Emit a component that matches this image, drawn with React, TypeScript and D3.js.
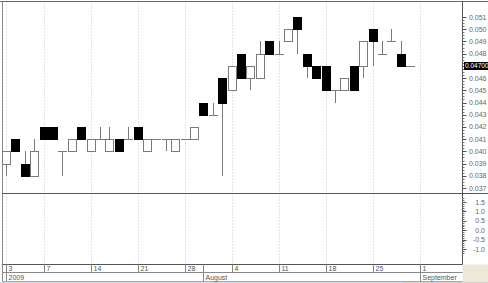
import React from "react";
import * as d3 from "d3";

// ---- data ----
const opens = [0.039,0.041,0.039,0.038,0.042,0.042,0.040,0.040,0.042,0.040,0.041,0.040,0.041,0.041,0.042,0.040,0.041,0.041,0.040,0.041,0.041,0.044,0.043,0.046,0.045,0.048,0.046,0.046,0.049,0.048,0.049,0.051,0.048,0.047,0.047,0.045,0.045,0.047,0.047,0.050,0.048,0.049,0.048,0.047];
const highs = [0.040,0.041,0.040,0.041,0.042,0.042,0.040,0.041,0.042,0.041,0.042,0.042,0.041,0.042,0.042,0.041,0.041,0.041,0.041,0.041,0.042,0.044,0.044,0.046,0.047,0.048,0.047,0.049,0.049,0.049,0.050,0.051,0.048,0.047,0.047,0.045,0.046,0.047,0.049,0.050,0.049,0.050,0.049,0.047];
const lows = [0.038,0.040,0.038,0.038,0.041,0.041,0.038,0.040,0.041,0.040,0.041,0.040,0.040,0.041,0.041,0.040,0.041,0.040,0.040,0.041,0.041,0.043,0.043,0.038,0.045,0.046,0.045,0.046,0.048,0.048,0.049,0.048,0.046,0.046,0.045,0.044,0.045,0.045,0.046,0.047,0.048,0.049,0.047,0.047];
const closes = [0.040,0.040,0.038,0.040,0.041,0.041,0.040,0.041,0.041,0.041,0.041,0.041,0.040,0.041,0.041,0.041,0.041,0.041,0.041,0.041,0.042,0.043,0.043,0.044,0.047,0.046,0.047,0.048,0.048,0.048,0.050,0.050,0.047,0.046,0.045,0.045,0.046,0.045,0.049,0.049,0.048,0.049,0.047,0.047];

const dayTickIndex = [0, 4, 9, 14, 19, 24, 29, 34, 39, 44];
const dayTickLabels = ["3", "7", "14", "21", "28", "4", "11", "18", "25", "1"];
const monthIndex = [0, 21, 44];
const monthLabels = ["2009", "August", "September"];

const priceTicks = [0.037,0.038,0.039,0.040,0.041,0.042,0.043,0.044,0.045,0.046,0.047,0.048,0.049,0.050,0.051];
const lowerTicks = [1.5, 1.0, 0.5, 0.0, -0.5, -1.0];
const lastValueLabel = "0.04700";

const W = 488, H = 283;
const FONT = "'Liberation Sans', Arial, sans-serif";

export default function App() {
  const x = d3.scaleLinear().domain([-0.4, 48.5]).range([2.25, 462]);
  const y = d3.scaleLinear().domain([0.037, 0.051]).range([188, 17]);
  const yl = d3.scaleLinear().domain([-1.0, 1.5]).range([249, 202]);
  const plotL = 2.5, axisX = 462.5, top = 1.5, mainBottom = 193.5, lowBottom = 264.5, row2 = 272.5, bottom = 281.5;
  const bw = 8;
  const gray = "#7a7a7a";
  const lastClose = closes[closes.length - 1];

  const minorPrice = d3.range(0.037, 0.05101, 0.00025);
  const minorLow = d3.range(-1.2, 1.71, 0.1);

  return (
    <svg width={W} height={H} style={{ position: "absolute", left: 0, top: 0, background: "#fff" }} fontFamily={FONT}>
      <rect x={0} y={0} width={W} height={H} fill="#fff" />
      {/* bottom strips */}
      <rect x={axisX} y={lowBottom} width={W - axisX} height={H - lowBottom} fill="#ece9d8" />
      <rect x={0} y={282} width={403} height={1} fill="#cfdcee" />
      <rect x={403} y={282} width={85} height={1} fill="#d4d0c8" />

      {/* dotted grid */}
      {dayTickIndex.map((d, k) => {
        const xx = Math.round(x(d)) + 0.5;
        return (
          <line key={"g" + k} x1={xx} x2={xx} y1={top} y2={lowBottom} stroke="#c8c8c8" strokeDasharray="1,2" />
        );
      })}

      {/* frames */}
      <line x1={0} x2={W} y1={top} y2={top} stroke="#666" />
      <line x1={plotL} x2={plotL} y1={top} y2={bottom} stroke="#888" />
      <line x1={axisX} x2={axisX} y1={top} y2={lowBottom} stroke="#555" />
      <line x1={plotL} x2={W} y1={mainBottom} y2={mainBottom} stroke="#555" />
      <line x1={plotL} x2={axisX} y1={lowBottom} y2={lowBottom} stroke="#555" />
      <line x1={plotL} x2={axisX} y1={row2} y2={row2} stroke="#888" />
      <line x1={plotL} x2={axisX} y1={bottom} y2={bottom} stroke="#aaa" />

      {/* candles */}
      {opens.map((o, i) => {
        const c = closes[i];
        const cx = Math.round(x(i));
        const wx = cx + 0.5;
        const up = c > o;
        const down = c < o;
        const yTop = Math.round(y(Math.max(o, c)));
        const yBot = Math.round(y(Math.min(o, c)));
        return (
          <g key={"c" + i}>
            <line x1={wx} x2={wx} y1={Math.round(y(highs[i]))} y2={Math.round(y(lows[i]))} stroke={gray} />
            {up && (
              <rect x={cx - bw / 2 + 0.5} y={yTop + 0.5} width={bw} height={yBot - yTop} fill="#fff" stroke={gray} />
            )}
            {down && (
              <rect x={cx - bw / 2} y={yTop} width={bw + 1} height={yBot - yTop + 1} fill="#000" />
            )}
            {!up && !down && (
              <line x1={cx - bw / 2} x2={cx + bw / 2 + 1} y1={yTop + 0.5} y2={yTop + 0.5} stroke={gray} />
            )}
          </g>
        );
      })}

      {/* price axis */}
      {minorPrice.map((v, k) => (
        <line key={"mp" + k} x1={axisX} x2={axisX + 2} y1={Math.round(y(v)) + 0.5} y2={Math.round(y(v)) + 0.5} stroke="#777" />
      ))}
      {priceTicks.map((v, k) => (
        <g key={"pt" + k}>
          <line x1={axisX} x2={axisX + 4} y1={Math.round(y(v)) + 0.5} y2={Math.round(y(v)) + 0.5} stroke="#555" />
          {Math.abs(v - lastClose) > 1e-9 && (
            <text x={469} y={y(v) + 2.5} fontSize={7} fill="#666">{v.toFixed(3)}</text>
          )}
        </g>
      ))}
      <rect x={464} y={Math.round(y(lastClose)) - 4} width={24} height={8} fill="#000" />
      <text x={465} y={y(lastClose) + 2.5} fontSize={6.5} fill="#fff">{lastValueLabel}</text>

      {/* lower panel axis */}
      {minorLow.map((v, k) => (
        <line key={"ml" + k} x1={axisX} x2={axisX + 2} y1={Math.round(yl(v)) + 0.5} y2={Math.round(yl(v)) + 0.5} stroke="#777" />
      ))}
      {lowerTicks.map((v, k) => (
        <g key={"lt" + k}>
          <line x1={axisX} x2={axisX + 4} y1={Math.round(yl(v)) + 0.5} y2={Math.round(yl(v)) + 0.5} stroke="#555" />
          <text x={485} y={yl(v) + 2.5} fontSize={7} fill="#666" textAnchor="end">{v.toFixed(1)}</text>
        </g>
      ))}

      {/* date axis */}
      {dayTickIndex.map((d, k) => {
        const xx = Math.round(x(d)) + 0.5;
        return (
          <g key={"dt" + k}>
            <line x1={xx} x2={xx} y1={lowBottom} y2={row2} stroke="#888" />
            <text x={xx + 2} y={270.5} fontSize={7} fill="#555">{dayTickLabels[k]}</text>
          </g>
        );
      })}
      {monthIndex.map((d, k) => {
        const xx = Math.round(x(d)) + 0.5;
        return (
          <g key={"mt" + k}>
            <line x1={xx} x2={xx} y1={lowBottom} y2={bottom} stroke="#888" />
            <text x={xx + 2} y={279.5} fontSize={7} fill="#555">{monthLabels[k]}</text>
          </g>
        );
      })}
    </svg>
  );
}
